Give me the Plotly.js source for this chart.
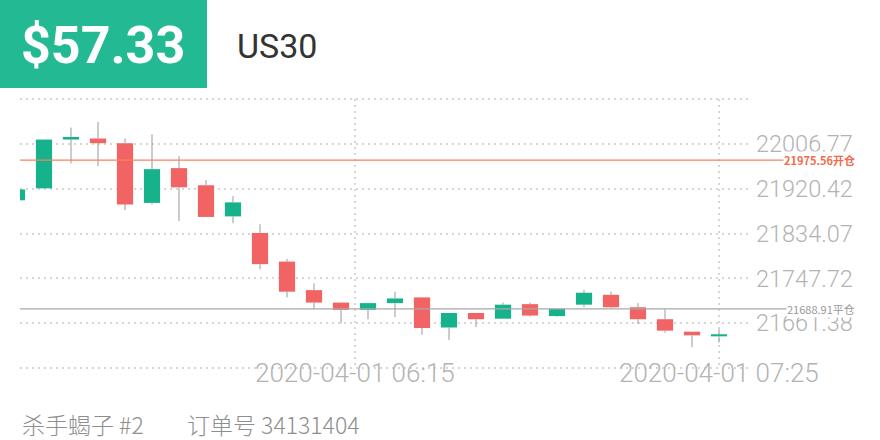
<!DOCTYPE html>
<html>
<head>
<meta charset="utf-8">
<script src="https://cdn.plot.ly/plotly-3.0.1.min.js"></script>
<style>html,body{margin:0;padding:0;background:#fff;}#chart{width:880px;height:440px;}</style>
</head>
<body>
<div id="chart"></div>
<script>
// ---- data ----
const times = ['05:15','05:20','05:25','05:30','05:35','05:40','05:45','05:50','05:55','06:00','06:05','06:10','06:15','06:20','06:25','06:30','06:35','06:40','06:45','06:50','06:55','07:00','07:05','07:10','07:15','07:20','07:25'];
const openV  = [21898,21921,22015,22017,22008,21893,21960,21927,21867,21835,21780,21725,21701,21687,21700,21711,21653,21681,21670,21698,21675,21697,21716,21692,21669,21645,21636];
const closeV = [21919,22015,22020,22008,21890,21958,21923,21866,21894,21775,21722,21701,21687,21700,21709,21652,21681,21669,21697,21676,21689,21720,21692,21669,21647,21638,21640];
const highV  = [21919,22015,22038,22049,22017,22025,21983,21937,21906,21852,21785,21738,21701,21700,21722,21711,21681,21681,21701,21701,21690,21725,21722,21700,21688,21645,21650];
const lowV   = [21898,21921,21969,21964,21879,21890,21858,21866,21854,21765,21711,21688,21661,21669,21673,21639,21629,21654,21670,21674,21674,21692,21691,21660,21643,21615,21624];
const yTicks = [21661.38, 21747.72, 21834.07, 21920.42, 22006.77];
const yTickText = ['21661.38','21747.72','21834.07','21920.42','22006.77'];
const xTickPos = [12.5, 26];
const xTickText = ['2020-04-01 06:15','2020-04-01 07:25'];
const openPrice = 21975.56;
const closePrice = 21688.91;
const amountText = '$57.33';
const symbolText = 'US30';
const traderText = '杀手蝎子 #2';
const orderText = '订单号 34131404';

// ---- geometry helpers (pixels -> paper) ----
const L = 20, R = 750, T = 99, B = 368;
const px = p => (p - L) / (R - L);
const py = p => (B - p) / (B - T);

const GREEN = '#16b28c', RED = '#f26363';
const xIdx = times.map((_, i) => i);
const bodyLow = openV.map((o, i) => Math.min(o, closeV[i]));
const bodyHigh = openV.map((o, i) => Math.max(o, closeV[i]));
const bodyLen = bodyHigh.map((h, i) => h - bodyLow[i]);
const colors = openV.map((o, i) => closeV[i] >= o ? GREEN : RED);

const wx = [], wy = [];
xIdx.forEach(i => {
  wx.push(i, i, null, i, i, null);
  wy.push(highV[i], bodyHigh[i], null, bodyLow[i], lowV[i], null);
});

const data = [
  {type: 'bar', x: xIdx, y: bodyLen, base: bodyLow, width: 0.6,
   marker: {color: colors, line: {width: 0}}, hoverinfo: 'skip'},
  {type: 'scatter', mode: 'lines', x: wx, y: wy, connectgaps: false,
   line: {color: '#999999', width: 1}, hoverinfo: 'skip'}
];

const gridCol = '#d6d6d6';
const layout = {
  width: 880, height: 440,
  margin: {l: L, r: 880 - R, t: T, b: 440 - B, pad: 0},
  paper_bgcolor: '#fff', plot_bgcolor: '#fff',
  showlegend: false,
  xaxis: {range: [(L - 17) / 27, (R - 17) / 27], tickvals: xTickPos, ticktext: xTickText,
          showticklabels: false, showgrid: true, gridcolor: gridCol, gridwidth: 2, griddash: '2px,4px',
          zeroline: false, showline: false, ticks: '', fixedrange: true},
  yaxis: {range: [21575.03, 22093.12], side: 'right', tickvals: yTicks, ticktext: yTickText,
          showgrid: true, gridcolor: gridCol, gridwidth: 2, griddash: '2px,4px',
          zeroline: false, showline: false, ticks: '', ticklabelstandoff: 5,
          tickfont: {family: 'Roboto', size: 23.5, color: '#b3b3b3', weight: 300}, fixedrange: true},
  shapes: [
    {type: 'rect', xref: 'paper', yref: 'paper', x0: px(0), x1: px(207), y0: py(88), y1: py(0),
     fillcolor: '#22b993', line: {width: 0}, layer: 'below'},
    {type: 'line', xref: 'paper', yref: 'paper', x0: 0, x1: 1, y0: 1, y1: 1,
     line: {color: gridCol, width: 2, dash: '2px,4px'}},
    {type: 'line', xref: 'paper', yref: 'paper', x0: 0, x1: 1, y0: 0, y1: 0,
     line: {color: gridCol, width: 2, dash: '2px,4px'}},
    {type: 'line', xref: 'paper', yref: 'y', x0: 0, x1: px(787), y0: openPrice, y1: openPrice,
     line: {color: '#f7835f', width: 1.3}},
    {type: 'line', xref: 'paper', yref: 'y', x0: 0, x1: px(790), y0: closePrice, y1: closePrice,
     line: {color: '#a8a8a8', width: 1.3}}
  ],
  annotations: [
    {xref: 'paper', yref: 'paper', x: px(19), y: py(46), xanchor: 'left', yanchor: 'middle',
     text: amountText, showarrow: false,
     font: {family: 'Roboto', size: 52, color: '#ffffff', weight: 700}},
    {xref: 'paper', yref: 'paper', x: px(235), y: py(46), xanchor: 'left', yanchor: 'middle',
     text: symbolText, showarrow: false,
     font: {family: 'Roboto', size: 34, color: '#333333'}},
    ...xTickPos.map((v, i) => ({xref: 'x', yref: 'paper', x: v, y: py(373), xanchor: 'center', yanchor: 'middle',
     text: xTickText[i], showarrow: false,
     font: {family: 'Roboto', size: 26, color: '#b3b3b3', weight: 300}})),
    {xref: 'paper', yref: 'y', x: px(856), y: openPrice, xanchor: 'right', yanchor: 'middle',
     text: openPrice.toFixed(2) + '开仓', showarrow: false, bgcolor: '#ffffff', borderpad: 0,
     font: {family: 'Noto Sans CJK SC', size: 11, color: '#f26b4c', weight: 700}},
    {xref: 'paper', yref: 'y', x: px(856), y: closePrice, xanchor: 'right', yanchor: 'middle',
     text: closePrice.toFixed(2) + '平仓', showarrow: false, bgcolor: '#ffffff', borderpad: 0,
     font: {family: 'Noto Sans CJK SC', size: 11, color: '#999999'}},
    {xref: 'paper', yref: 'paper', x: px(20), y: py(424), xanchor: 'left', yanchor: 'middle',
     text: traderText, showarrow: false,
     font: {family: 'Noto Sans CJK SC', size: 23, color: '#8e8e8e', weight: 300}},
    {xref: 'paper', yref: 'paper', x: px(185), y: py(424), xanchor: 'left', yanchor: 'middle',
     text: orderText, showarrow: false,
     font: {family: 'Noto Sans CJK SC', size: 23, color: '#8e8e8e', weight: 300}}
  ]
};

Plotly.newPlot('chart', data, layout, {staticPlot: true, displayModeBar: false});
</script>
</body>
</html>
